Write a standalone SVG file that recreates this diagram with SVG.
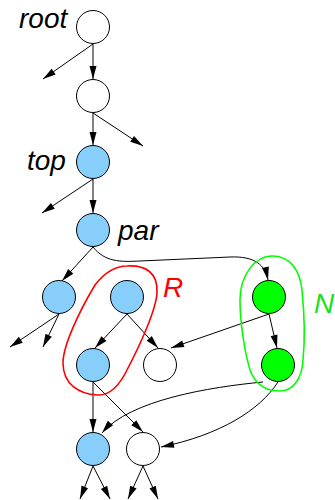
<svg xmlns="http://www.w3.org/2000/svg" width="335" height="500" viewBox="0 0 335 500">
<style>
.e{fill:none;stroke:#000;stroke-width:1;marker-end:url(#a)}
.n{stroke:#000;stroke-width:1}
.w{fill:#fff}
.b{fill:#87CEFA}
.g{fill:#00FF00}
.lbl{font-family:"Liberation Sans",Arial,sans-serif;font-style:italic;font-size:28px}
</style>
<defs>
<marker id="a" markerUnits="userSpaceOnUse" markerWidth="14" markerHeight="8" refX="13" refY="3.5" orient="auto" overflow="visible">
<path d="M0,0 L13,3.5 L0,7 Z" fill="#000"/>
</marker>
</defs>
<rect width="335" height="500" fill="#fff"/>
<g id="connectors">
<path class="e" d="M93,44 L43,79"/>
<path class="e" d="M93,44 L93,79"/>
<path class="e" d="M93,113 L143,146"/>
<path class="e" d="M93,113 L93,145"/>
<path class="e" d="M93,179 L42,213"/>
<path class="e" d="M93,179 L93,213"/>
<path class="e" d="M93,247 L62,281"/>
<path class="e" d="M93,247 C105,262 120,262 140,261 L230,257 C255,256 265,265 268,280"/>
<path class="e" d="M59,314 L10,347"/>
<path class="e" d="M59,314 L43,347"/>
<path class="e" d="M127,314 L95,348"/>
<path class="e" d="M127,314 L158,348"/>
<path class="e" d="M269,314 L171,348"/>
<path class="e" d="M269,314 L277,348"/>
<path class="e" d="M93,382 L93,432"/>
<path class="e" d="M93,382 L143,432"/>
<path class="e" d="M263,382 C210,387 130,400 102,433"/>
<path class="e" d="M278,382 C260,410 220,435 161,447"/>
<path class="e" d="M93,466 L80,499"/>
<path class="e" d="M93,466 L110,499"/>
<path class="e" d="M143,466 L128,499"/>
<path class="e" d="M143,466 L158,499"/>
</g>
<g id="R">
<path d="M127,266 C145,265 158,272 157,293 C156,310 140,345 128,368 C120,385 110,396 97,395 C80,394 63,385 63,363 C63,345 80,310 95,285 C105,272 115,266 127,266 Z" fill="none" stroke="#f00" stroke-width="1.6"/>
<text class="lbl" x="163" y="297" fill="#f00">R</text>
</g>
<g id="N">
<path d="M272,256 C290,256 300,270 302,290 C304,310 305,340 303,360 C302,380 292,391 280,391 C265,391 255,384 250,370 C244,350 240,320 240,300 C240,275 255,256 272,256 Z" fill="none" stroke="#0f0" stroke-width="1.6"/>
<text class="lbl" x="314" y="313" fill="#22dd22">N</text>
</g>
<g id="root"><circle class="n w" cx="93" cy="27" r="16.5"/><text class="lbl" x="19" y="28">root</text></g>
<g id="n2"><circle class="n w" cx="93" cy="96" r="16.5"/></g>
<g id="top"><circle class="n b" cx="93" cy="162" r="16.5"/><text class="lbl" x="27" y="170">top</text></g>
<g id="par"><circle class="n b" cx="93" cy="230" r="16.5"/><text class="lbl" x="118" y="240">par</text></g>
<g id="left"><circle class="n b" cx="59" cy="297" r="16.5"/></g>
<g id="rtop"><circle class="n b" cx="127" cy="297" r="16.5"/></g>
<g id="n1"><circle class="n g" cx="269" cy="297" r="16.5"/></g>
<g id="rchild"><circle class="n b" cx="93" cy="365" r="16.5"/></g>
<g id="white1"><circle class="n w" cx="160" cy="365" r="16.5"/></g>
<g id="n2g"><circle class="n g" cx="278" cy="365" r="16.5"/></g>
<g id="bblue"><circle class="n b" cx="93" cy="449" r="16.5"/></g>
<g id="bwhite"><circle class="n w" cx="143" cy="449" r="16.5"/></g>
</svg>
